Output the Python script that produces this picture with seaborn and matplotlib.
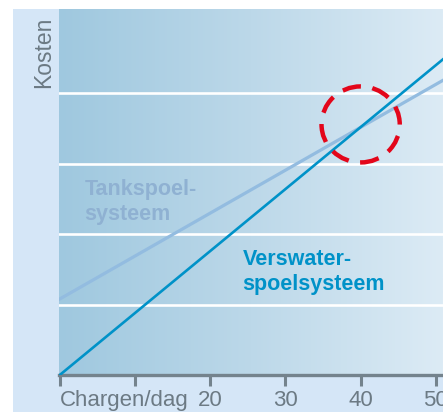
import numpy as np
import pandas as pd
import matplotlib
matplotlib.use("Agg")
import matplotlib.pyplot as plt
from matplotlib.colors import LinearSegmentedColormap
from matplotlib.patches import Ellipse, Rectangle
from matplotlib import font_manager
import seaborn as sns

# ---- data ----
chargen = [0, 51]
verswater = [0.0, 4.49]
tankspoel = [1.08, 4.19]
x_ticks = [0, 10, 20, 30, 40, 50]
x_tick_labels = ["Chargen/dag", "", "20", "30", "40", "50"]
grid_levels = [1, 2, 3, 4]
break_even = (40, 3.56)

names = {f.name for f in font_manager.fontManager.ttflist}
has_narrow = "Liberation Sans Narrow" in names
narrow = "Liberation Sans Narrow" if has_narrow else "Liberation Sans"
label_size = 18 if has_narrow else 15.5
plt.rcParams["font.family"] = ["Liberation Sans", "DejaVu Sans"]

W, H = 443, 414
fig = plt.figure(figsize=(W / 100, H / 100), dpi=100, facecolor="white")
# light blue panel
fig.patches.append(Rectangle((13 / W, 1 / H), 1 - 13 / W, (H - 11) / H,
                             transform=fig.transFigure, facecolor="#d5e6f7",
                             edgecolor="none", zorder=-10))

ax = fig.add_axes([59 / W, (H - 376) / H, 1 - 59 / W, 366 / H])
ax.set_zorder(1)
ax.set_xlim(-0.1, 50.95)
ax.set_ylim(0, 5.2)

# gradient background
cmap = LinearSegmentedColormap.from_list("bg", ["#9fc8df", "#bcd8e9", "#dcebf5"])
grad = np.linspace(0, 1, 256).reshape(1, -1)
ax.imshow(grad, extent=[-0.1, 50.95, 0, 5.2], aspect="auto", cmap=cmap, zorder=0)

for g in grid_levels:
    ax.axhline(g, color="white", lw=3.0, zorder=1)

df = pd.DataFrame({"chargen": chargen * 2,
                   "kosten": tankspoel + verswater,
                   "systeem": ["Tankspoelsysteem"] * 2 + ["Verswaterspoelsysteem"] * 2})
sns.lineplot(data=df, x="chargen", y="kosten", hue="systeem",
             palette={"Tankspoelsysteem": "#93bce0", "Verswaterspoelsysteem": "#0092c8"},
             ax=ax, legend=False, zorder=3)
for ln in ax.get_lines():
    if ln.get_color() == "#93bce0":
        ln.set_linewidth(2.3)
    else:
        ln.set_linewidth(1.9)

circ = Ellipse(break_even, width=10.4, height=1.08, fill=False, edgecolor="#e3061a",
               lw=3.2, linestyle=(0, (4.2, 2.6)), zorder=4)
ax.add_patch(circ)

# labels inside
txt = dict(family=[narrow, "DejaVu Sans"], fontweight="bold", fontsize=label_size,
           va="baseline", ha="left")
ax.text(3.3, 2.57, "Tankspoel-", color="#8fb1d2", zorder=2, **txt)
ax.text(3.3, 2.216, "systeem", color="#8fb1d2", zorder=2, **txt)
ax.text(24.3, 1.577, "Verswater-", color="#0092c8", zorder=5, **txt)
ax.text(24.3, 1.222, "spoelsysteem", color="#0092c8", zorder=5, **txt)

# axes styling
for s in ["top", "right", "left"]:
    ax.spines[s].set_visible(False)
ax.spines["bottom"].set_color("#74838d")
ax.spines["bottom"].set_linewidth(2.4)
ax.set_yticks([])
ax.set_xticks(x_ticks)
ax.set_xticklabels(x_tick_labels)
ax.tick_params(axis="x", direction="out", length=8, width=2.2, color="#74838d",
               labelsize=16, labelcolor="#6c7a84", pad=2)
ax.get_xticklabels()[0].set_horizontalalignment("left")
ax.get_xticklabels()[0].set_x(-0.4)
ax.set_xlabel("")
ax.set_ylabel("")

fig.text(44 / W, 1 - 17 / H, "Kosten", rotation=90, ha="center", va="top",
         fontsize=16.5, color="#6c7a84")

fig.savefig("out.png", dpi=100, facecolor="white")
